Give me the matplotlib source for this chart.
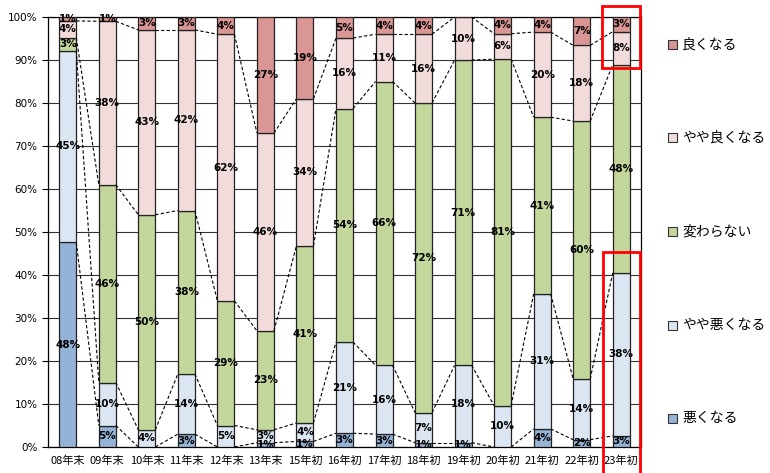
import matplotlib
matplotlib.use("Agg")
import matplotlib.pyplot as plt
from matplotlib.patches import Rectangle

plt.rcParams['font.family'] = ['Noto Sans CJK JP', 'DejaVu Sans']

categories = ["08年末", "09年末", "10年末", "11年末", "12年末", "13年末", "15年初", "16年初",
              "17年初", "18年初", "19年初", "20年初", "21年初", "22年初", "23年初"]
series_names = ["悪くなる", "やや悪くなる", "変わらない", "やや良くなる", "良くなる"]

worse          = [47.6, 5.0, 0.0, 3.0, 0.0, 1.0, 1.3, 3.2, 3.0, 1.0, 1.0, 0.0, 4.2, 1.7, 2.6]
slightly_worse = [44.6, 10.0, 4.0, 14.0, 5.0, 3.0, 4.3, 21.2, 16.0, 7.0, 18.0, 9.6, 31.4, 14.1, 37.9]
unchanged      = [3.0, 46.0, 50.0, 38.0, 29.0, 23.0, 41.2, 54.3, 66.0, 72.0, 71.0, 80.6, 41.1, 60.0, 48.4]
slightly_better= [3.9, 38.0, 43.0, 42.0, 62.0, 46.0, 34.2, 16.4, 11.0, 16.0, 10.0, 5.9, 19.8, 17.6, 7.7]
better         = [0.9, 1.0, 3.0, 3.0, 4.0, 27.0, 19.0, 4.9, 4.0, 4.0, 0.0, 3.9, 3.5, 6.6, 3.4]

colors = ["#95B3D7", "#DCE6F2", "#C3D69B", "#F2DCDB", "#D99694"]
series = [worse, slightly_worse, unchanged, slightly_better, better]

fig = plt.figure(figsize=(7.7, 4.73), dpi=100)
ax = fig.add_axes([48/770, 26/473, (641-48)/770, (447-17)/473])

n = len(categories)
x = list(range(n))
w = 0.43
bottoms = [0.0]*n
cums = []
for vals, col, name in zip(series, colors, series_names):
    ax.bar(x, vals, w, bottom=bottoms, color=col, edgecolor="#222222", linewidth=0.9,
           label=name, zorder=3)
    for i, v in enumerate(vals):
        if v >= 0.5:
            ax.text(i, bottoms[i] + v/2, f"{v:.0f}%", ha="center", va="center",
                    fontsize=7.5, fontweight="bold", family="DejaVu Sans", color="black", zorder=5)
    bottoms = [b + v for b, v in zip(bottoms, vals)]
    cums.append(list(bottoms))

# series connector lines
for k in range(4):
    c = cums[k]
    for i in range(n-1):
        ax.plot([i + w/2, i + 1 - w/2], [c[i], c[i+1]], ls=(0, (3, 2)), color="black",
                lw=0.8, zorder=4)

ax.set_xlim(-0.5, n - 0.5)
ax.set_ylim(0, 100)
ax.set_yticks(range(0, 101, 10))
ax.set_yticklabels([f"{t}%" for t in range(0, 101, 10)], fontsize=7.5, family="DejaVu Sans")
ax.set_xticks(x)
ax.set_xticklabels(categories, fontsize=8)
ax.tick_params(axis="x", length=0, pad=6)
ax.tick_params(axis="y", length=4, direction="out", width=0.8)
ax.yaxis.grid(True, color="#333333", lw=0.8, zorder=0)
ax.set_axisbelow(True)
for s in ax.spines.values():
    s.set_color("black")
    s.set_linewidth(0.9)

# legend (manual placement to mimic spacing)
leg_y = [45, 138, 232, 325, 418]
for name, col, yy in zip(series_names[::-1], colors[::-1], leg_y):
    fy = 1 - yy/473
    fig.patches.append(Rectangle((668/770, fy - 4.5/473), 9/770, 9/473, transform=fig.transFigure,
                                 facecolor=col, edgecolor="#333333", lw=0.8))
    fig.text(682/770, fy, name, fontsize=10, va="center", ha="left")

# red highlight rectangles
ax.add_patch(Rectangle((13.52, 88.1), 0.95, 14.5, fill=False, edgecolor="red", lw=2,
                       clip_on=False, zorder=6))
ax.add_patch(Rectangle((13.55, -10), 0.92, 55.3, fill=False, edgecolor="red", lw=2,
                       clip_on=False, zorder=6))

fig.savefig("out.png", dpi=100)
